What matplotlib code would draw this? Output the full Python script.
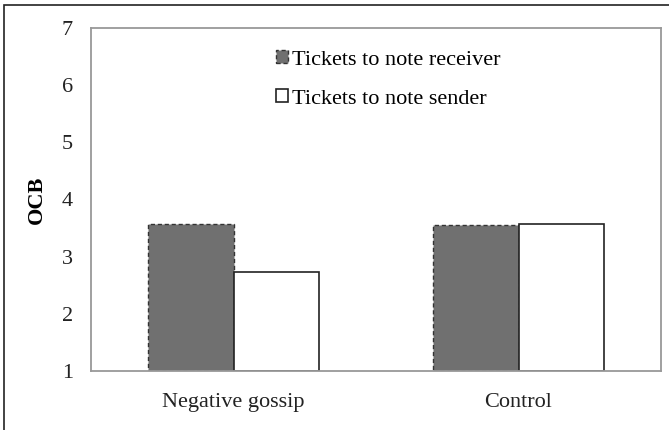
import matplotlib.pyplot as plt
import matplotlib.patches as mpatches
import numpy as np

# data
categories = ['Negative gossip', 'Control']
receiver = [3.57, 3.56]
sender = [2.74, 3.58]
series_labels = ['Tickets to note receiver', 'Tickets to note sender']
yticks = [1, 2, 3, 4, 5, 6, 7]


def main():
    plt.rcParams['font.family'] = ['Liberation Serif', 'DejaVu Serif']

    fig = plt.figure(figsize=(6.69, 4.30), dpi=100)
    ax = fig.add_axes([91 / 669, 1 - 371 / 430, 570 / 669, 343 / 430])

    x = np.arange(len(categories))
    w = 0.3
    ax.bar(x - w / 2, np.array(receiver) - 1, w, bottom=1, color='#707070',
           edgecolor='#333333', linestyle=(0, (3, 2)), linewidth=1.0,
           label=series_labels[0])
    ax.bar(x + w / 2, np.array(sender) - 1, w, bottom=1, color='white',
           edgecolor='#222222', linewidth=1.2, label=series_labels[1])

    ax.set_xlim(-0.5, 1.5)
    ax.set_ylim(1, 7)
    ax.set_xticks(x)
    ax.set_xticklabels(categories, fontsize=16)
    ax.set_yticks(yticks)
    ax.set_yticklabels([str(t) for t in yticks], fontsize=16)
    ax.tick_params(axis='both', length=0, colors='#222222')
    ax.tick_params(axis='y', pad=13)
    ax.tick_params(axis='x', pad=16)
    for s in ax.spines.values():
        s.set_color('#999999')
        s.set_linewidth(1.3)

    ax.set_ylabel('OCB', fontsize=16, fontweight='bold', labelpad=11)

    ax.legend(loc='upper left', bbox_to_anchor=(276 / 669, 1 - 50 / 430),
              bbox_transform=fig.transFigure, frameon=False,
              fontsize=16, handlelength=0.55, handleheight=0.55,
              handletextpad=0.15, labelspacing=0.88, borderpad=0,
              borderaxespad=0)

    # outer border of the picture (right and bottom edges cropped away)
    border = mpatches.Rectangle((4 / 669, -0.1), 2, 1 - 5 / 430 + 0.1,
                                transform=fig.transFigure, fill=False,
                                edgecolor='#222222', linewidth=1.2)
    fig.patches.append(border)

    fig.savefig('out.png', dpi=100)


if __name__ == "__main__":
    main()
